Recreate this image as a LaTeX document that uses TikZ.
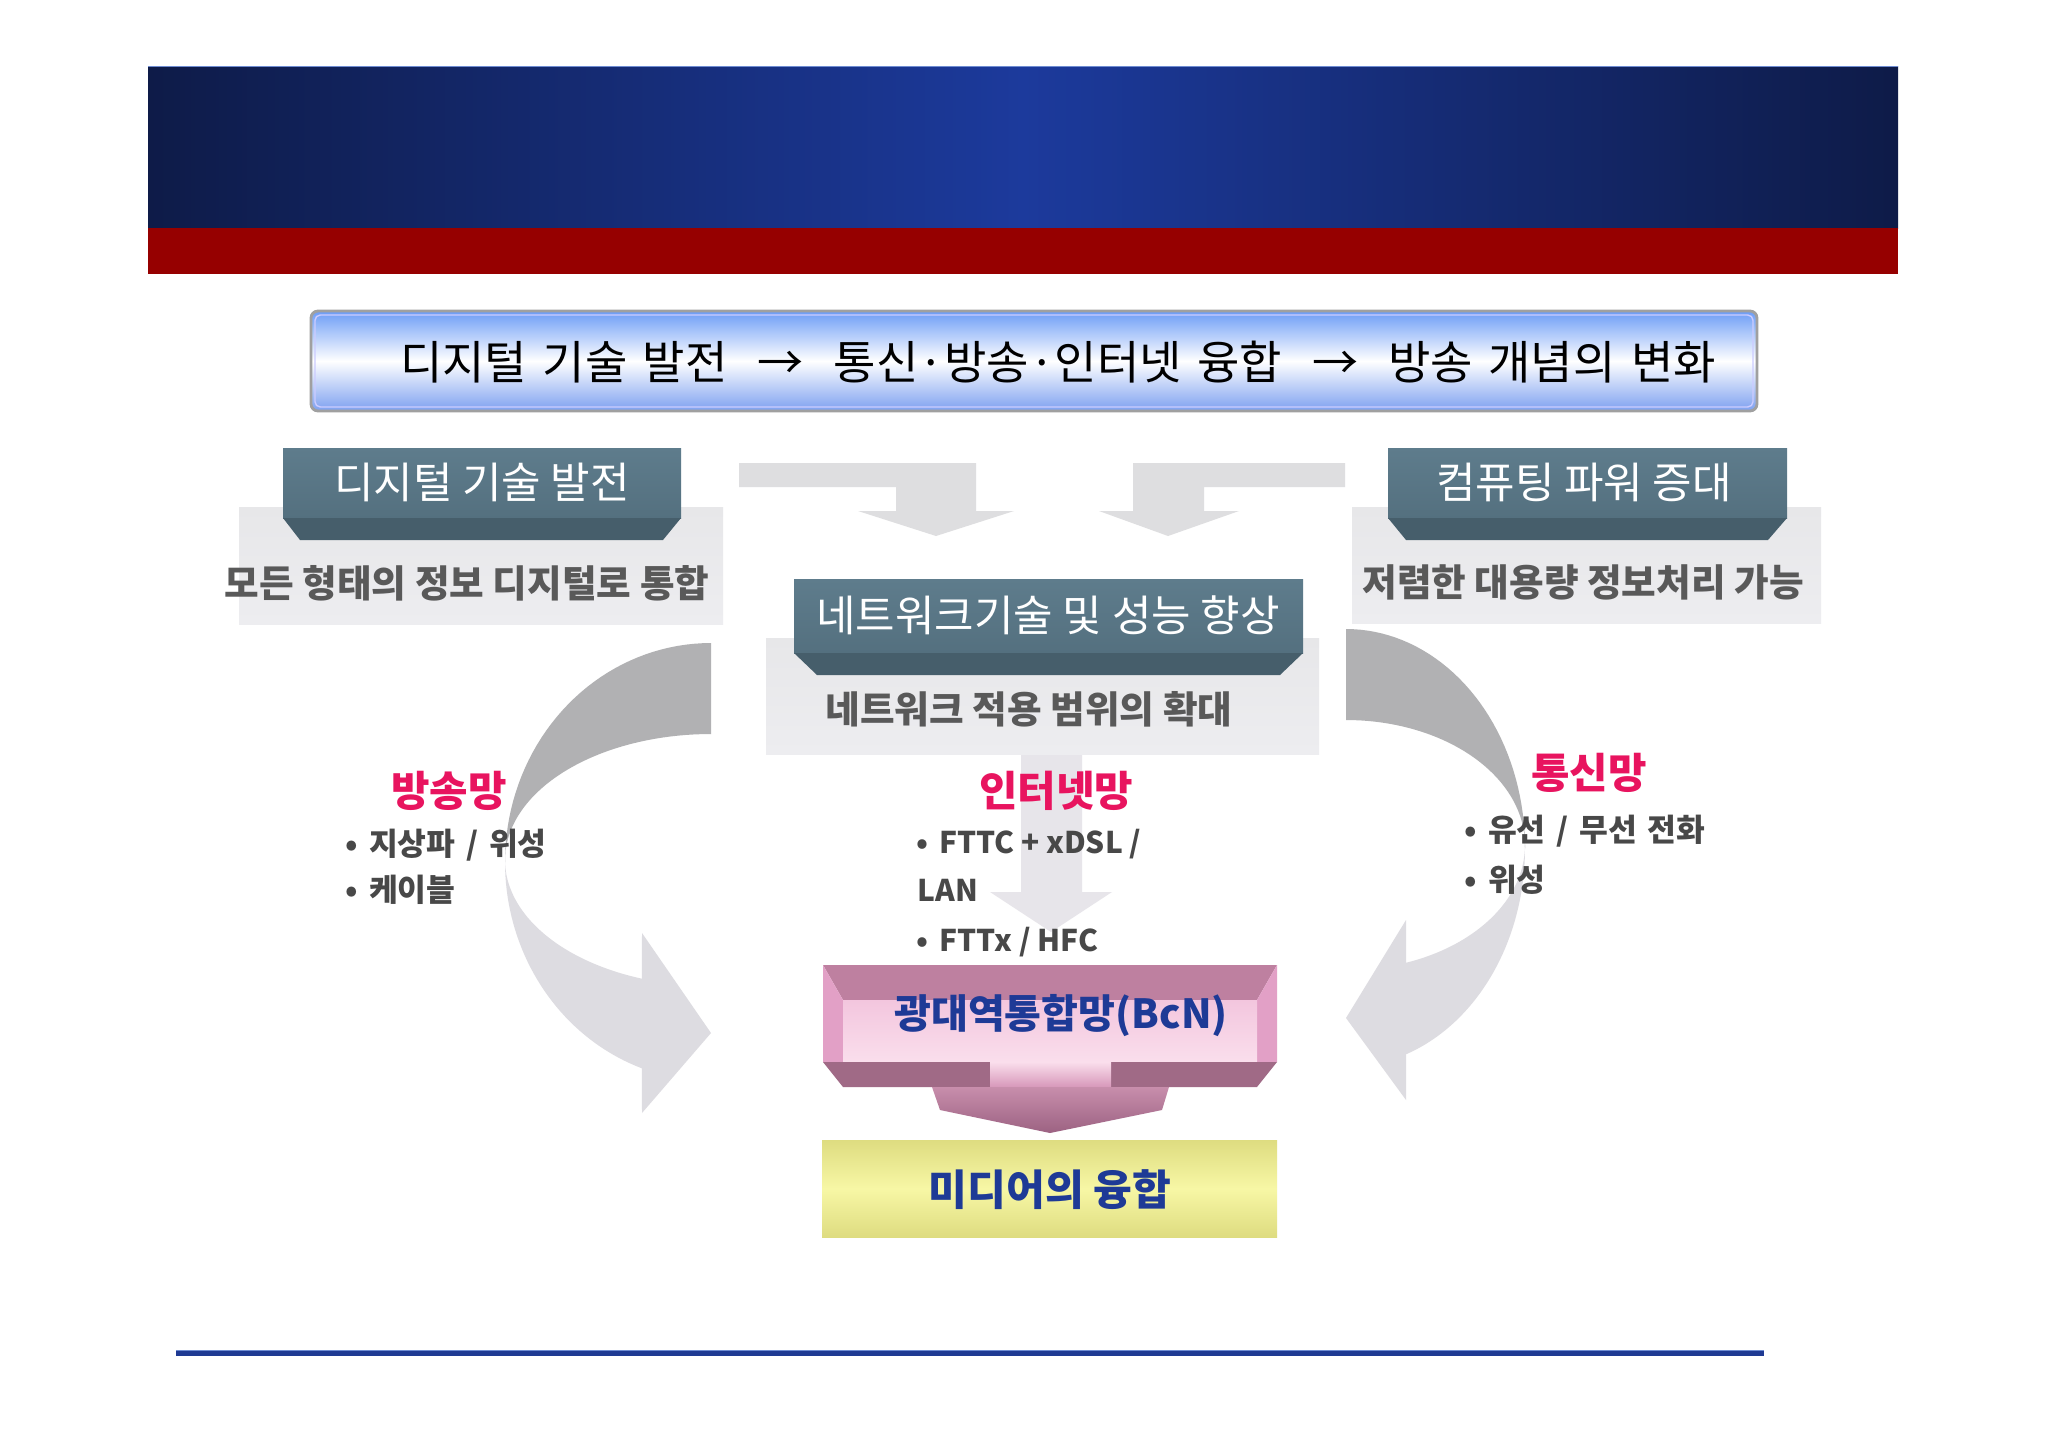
\documentclass[tikz,border=0pt]{standalone}
\usepackage{fontspec}
\setmainfont{Noto Sans CJK KR}
\newfontfamily\bulfont[WordSpace=1.5]{Noto Sans CJK KR}
\definecolor{navyE}{RGB}{14,27,72}
\definecolor{navyC}{RGB}{28,58,156}
\definecolor{redband}{RGB}{150,0,0}
\definecolor{slateT}{RGB}{94,124,140}
\definecolor{slateB}{RGB}{84,112,127}
\definecolor{slateD}{RGB}{70,94,107}
\definecolor{greyboxT}{RGB}{231,231,233}
\definecolor{greyboxB}{RGB}{237,237,240}
\definecolor{txtgrey}{RGB}{89,89,89}
\definecolor{bulletgrey}{RGB}{72,72,72}
\definecolor{pinklbl}{RGB}{232,20,95}
\definecolor{bluetxt}{RGB}{30,58,150}
\definecolor{arcdark}{RGB}{177,177,179}
\definecolor{arclight}{RGB}{221,220,225}
\definecolor{faint}{RGB}{231,229,234}
\definecolor{smallarrow}{RGB}{222,222,224}
\definecolor{titleT}{RGB}{108,156,246}
\definecolor{titleB}{RGB}{125,160,240}
\definecolor{titleline}{RGB}{160,160,160}
\definecolor{mauveT}{RGB}{190,128,160}
\definecolor{mauveS}{RGB}{226,160,198}
\definecolor{mauveD}{RGB}{160,106,134}
\definecolor{headT}{RGB}{200,142,172}
\definecolor{headB}{RGB}{156,98,130}
\definecolor{pinkL}{RGB}{243,198,222}
\definecolor{pinkM}{RGB}{250,222,236}
\definecolor{neckB}{RGB}{215,152,186}
\definecolor{yelE}{RGB}{222,220,128}
\definecolor{yelM}{RGB}{247,247,165}
\definecolor{lineblue}{RGB}{31,58,147}
\definecolor{hilite}{RGB}{110,140,210}
\tikzset{
  txt/.style={inner sep=0pt, text height=0.84em, text depth=0.08em},
  ttl/.style={txt, font=\bulfont\fontsize{13.1}{15}\selectfont, text=black},
  hdr/.style={txt, font=\fontsize{12.2}{14}\selectfont, text=white},
  subtxt/.style={txt, font=\bfseries\fontsize{10.7}{12}\selectfont, text=txtgrey},
  lbl/.style={txt, font=\bfseries\fontsize{11.9}{13}\selectfont, text=pinklbl},
  bul/.style={txt, anchor=west, font=\bulfont\bfseries\fontsize{8.9}{10}\selectfont, text=bulletgrey},
  bullat/.style={txt, anchor=west, font=\bfseries\fontsize{8.5}{10}\selectfont, text=bulletgrey},
  blu/.style={txt, font=\bfseries\fontsize{11.4}{13}\selectfont, text=bluetxt},
  greybox/.style={top color=greyboxT, bottom color=greyboxB},
  slateface/.style={top color=slateT, bottom color=slateB},
}
\begin{document}
\begin{tikzpicture}[x=0.01cm, y=-0.01cm]
\useasboundingbox (0,0) rectangle (2048,1448);
\fill[white] (0,0) rectangle (2048,1448);

% header band
\shade[left color=navyE, right color=navyE, middle color=navyC] (148,66) rectangle (1898,228);
\fill[redband] (148,228) rectangle (1898,274);
\draw[hilite, line width=0.4pt] (148,66.5) -- (1898,66.5);

% title box
\shade[top color=titleT, bottom color=titleB, middle color=white, rounded corners=2pt] (311,311) rectangle (1757,411);
\draw[titleline, rounded corners=2pt, line width=0.8pt] (311,311) rectangle (1757,411);
\draw[white!80!blue, rounded corners=1.5pt, line width=0.4pt] (315,315) rectangle (1753,407);
\node[ttl] (title) at (1058,366) {디지털 기술 발전\hspace{0.65em}→\hspace{0.65em}통신·방송·인터넷 융합\hspace{0.65em}→\hspace{0.65em}방송 개념의 변화};

% small elbow arrows
\fill[smallarrow] (739,463) -- (976,463) -- (976,511) -- (1014,511) -- (936,536) -- (858,511) -- (896,511) -- (896,487) -- (739,487) -- cycle;
\fill[smallarrow] (1345,463) -- (1133,463) -- (1133,511) -- (1099,511) -- (1168,536) -- (1239,511) -- (1204,511) -- (1204,487) -- (1345,487) -- cycle;

% faint middle arrow
\fill[faint] (1021,740) -- (1082,740) -- (1082,892) -- (1112,892) -- (1051,932) -- (990,892) -- (1021,892) -- cycle;

% grey boxes
\shade[greybox] (239,507) rectangle (723,624);
\shade[greybox] (1352,507) rectangle (1821,623);
\shade[greybox] (766,638) rectangle (1319,754);

% slate headers
\shade[slateface] (283,448) rectangle (681,518);
\fill[slateD] (283,518) -- (681,518) -- (663,540) -- (300,540) -- cycle;
\shade[slateface] (1388,448) rectangle (1787,518);
\fill[slateD] (1388,518) -- (1787,518) -- (1768,540) -- (1406,540) -- cycle;
\shade[slateface] (794,579) rectangle (1303,653);
\fill[slateD] (794,653) -- (1303,653) -- (1280,675) -- (817,675) -- cycle;

\node[hdr] (h1) at (482,485) {디지털 기술 발전};
\node[hdr] (h2) at (1584,485) {컴퓨팅 파워 증대};
\node[hdr] (h3) at (1048,618) {네트워크기술 및 성능 향상};
\node[subtxt] (s1) at (467,584) {모든 형태의 정보 디지털로 통합};
\node[subtxt] (s2) at (1583,583) {저렴한 대용량 정보처리 가능};
\node[subtxt] (s3) at (1029,710) {네트워크 적용 범위의 확대};

% left curved arrow
\fill[arcdark] plot[domain=90:180, samples=40] ({711+206*cos(\x)}, {862-219*sin(\x)})
  -- plot[domain=180:90, samples=40] ({711+206*cos(\x)}, {860-126*sin(\x)}) -- cycle;
\fill[arclight] plot[domain=180:250.4, samples=40] ({711+206*cos(\x)}, {862-219*sin(\x)})
  -- (642,1113) -- (711,1033) -- (642,933)
  -- plot[domain=250.4:180, samples=40] ({711+206*cos(\x)}, {860-126*sin(\x)}) -- cycle;

% right curved arrow
\fill[arcdark] plot[domain=90:0, samples=40] ({1346+179*cos(\x)}, {848-219*sin(\x)})
  -- plot[domain=0:90, samples=40] ({1346+179*cos(\x)}, {845-125*sin(\x)}) -- cycle;
\fill[arclight] plot[domain=0:-70.4, samples=40] ({1346+179*cos(\x)}, {848-219*sin(\x)})
  -- (1406,1100) -- (1346,1018) -- (1406,920)
  -- plot[domain=-70.4:0, samples=40] ({1346+179*cos(\x)}, {845-125*sin(\x)}) -- cycle;

% BcN block arrow
\fill[mauveT] (823,965) -- (1277,965) -- (1257,1000) -- (843,1000) -- cycle;
\fill[mauveS] (823,965) -- (843,1000) -- (843,1062) -- (823,1062) -- cycle;
\fill[mauveS] (1277,965) -- (1257,1000) -- (1257,1062) -- (1277,1062) -- cycle;
\shade[top color=pinkL, bottom color=pinkM] (843,1000) rectangle (1257,1062);
\fill[mauveD] (823,1062) -- (990,1062) -- (990,1087) -- (843,1087) -- cycle;
\fill[mauveD] (1111,1062) -- (1277,1062) -- (1257,1087) -- (1111,1087) -- cycle;
\shade[top color=pinkM, bottom color=neckB] (990,1062) rectangle (1111,1087);
\shade[top color=headT, bottom color=headB] (932,1087) -- (1169,1087) -- (1162,1110) -- (1050,1133) -- (940,1110) -- cycle;
\node[blu] (bcn) at (1061,1015) {광대역통합망(BcN)};

% yellow box
\shade[top color=yelE, bottom color=yelE, middle color=yelM] (822,1140) rectangle (1277,1237);
\node[blu, font=\bfseries\fontsize{12}{14}\selectfont] (media) at (1050,1192) {미디어의 융합};

% labels
\node[lbl] (lb1) at (449,793) {방송망};
\node[bul] (b11) at (345,842) {•\hspace{0.35em}지상파 / 위성};
\node[bul] (b12) at (345,888) {•\hspace{0.35em}케이블};
\node[lbl] (lb2) at (1056,793) {인터넷망};
\node[bullat] (b21) at (916,840) {•\hspace{0.35em}FTTC + xDSL /};
\node[bullat] (b22) at (917,888) {LAN};
\node[bullat] (b23) at (916,938) {•\hspace{0.35em}FTTx / HFC};
\node[lbl] (lb3) at (1589,775) {통신망};
\node[bul] (b31) at (1464,828) {•\hspace{0.35em}유선 / 무선 전화};
\node[bul] (b32) at (1464,878) {•\hspace{0.35em}위성};

% bottom line
\fill[lineblue] (176,1350) rectangle (1764,1356);
\draw[hilite, line width=0.3pt] (176,1350.3) -- (1764,1350.3);
\end{tikzpicture}
\end{document}
